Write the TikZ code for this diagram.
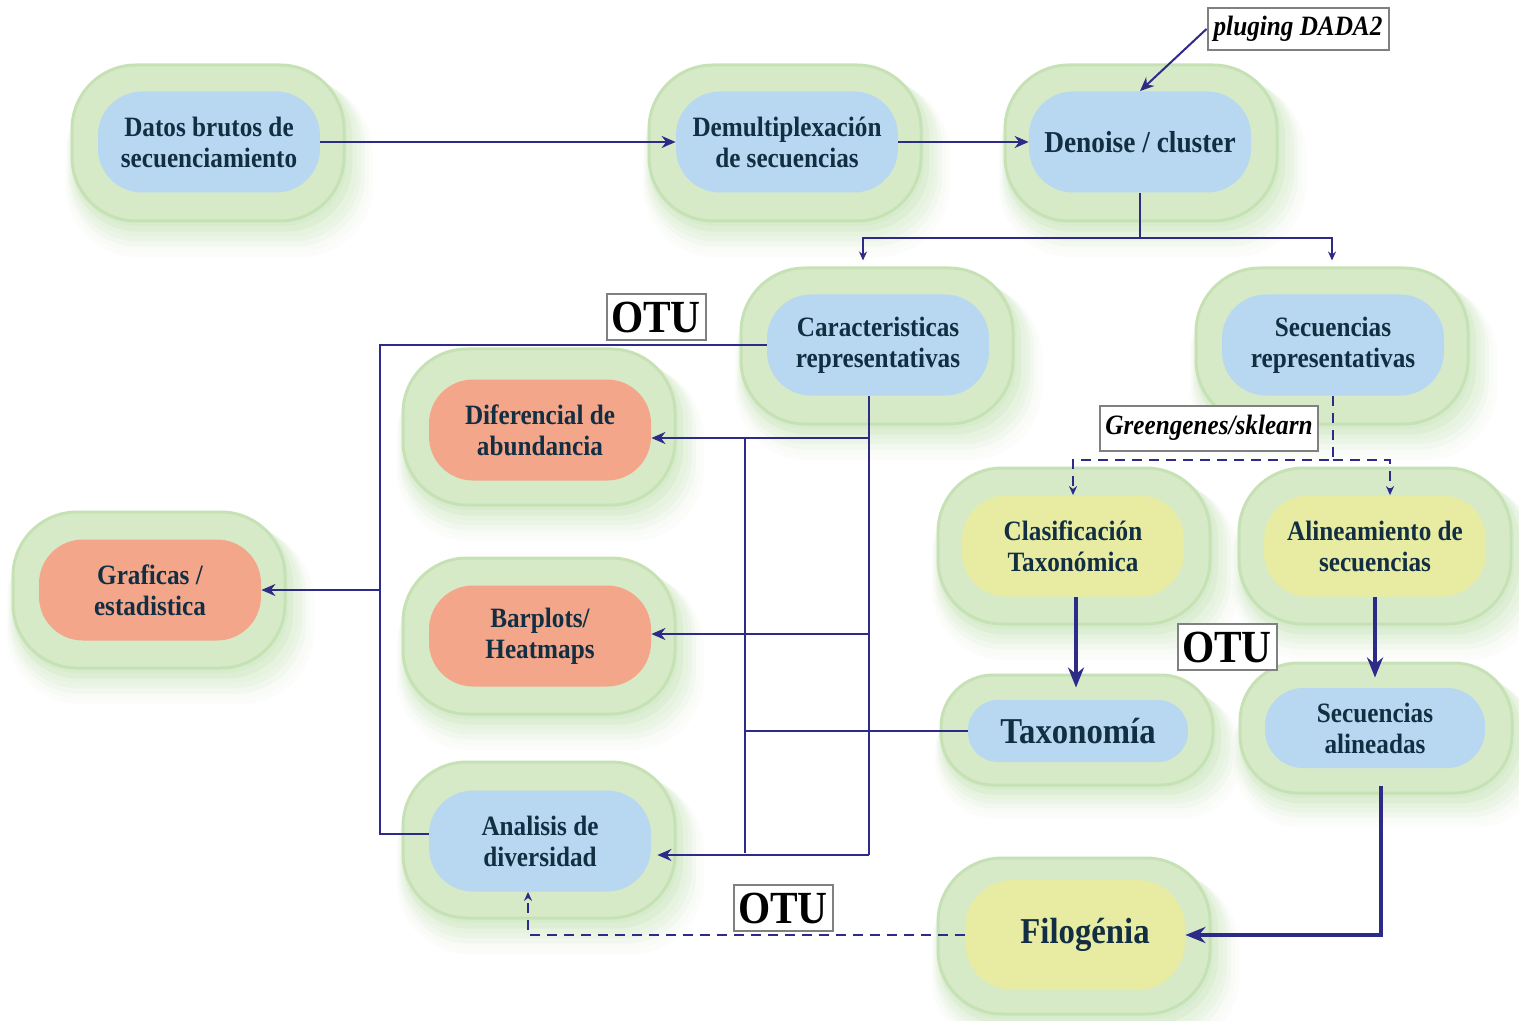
\documentclass[tikz,border=0pt]{standalone}
\usepackage{fontspec}
\setmainfont{Liberation Serif}[FakeStretch=0.9]
\usetikzlibrary{arrows.meta,shadows}
\definecolor{lc}{RGB}{46,42,136}
\definecolor{tc}{RGB}{18,46,66}
\definecolor{cblue}{RGB}{183,216,240}
\definecolor{csalmon}{RGB}{243,166,138}
\definecolor{cyellow}{RGB}{232,236,162}
\definecolor{gfill}{RGB}{214,234,200}
\definecolor{gedge}{RGB}{198,226,181}
\definecolor{gglow}{RGB}{180,220,160}
\definecolor{bgray}{RGB}{128,128,128}
\tikzset{
  outerbox/.style={rectangle, rounded corners=32pt, fill=gfill, draw=gedge, line width=1.5pt,
    minimum width=136pt, minimum height=78pt, inner sep=0pt,
    general shadow={fill=gglow, opacity=0.16, shadow xshift=1pt, shadow yshift=-2pt, shadow scale=1.01},
    general shadow={fill=gglow, opacity=0.13, shadow xshift=2pt, shadow yshift=-4pt, shadow scale=1.03},
    general shadow={fill=gglow, opacity=0.11, shadow xshift=3pt, shadow yshift=-5.5pt, shadow scale=1.05},
    general shadow={fill=gglow, opacity=0.09, shadow xshift=3.5pt, shadow yshift=-7pt, shadow scale=1.07},
    general shadow={fill=gglow, opacity=0.07, shadow xshift=4pt, shadow yshift=-8.5pt, shadow scale=1.09},
    general shadow={fill=gglow, opacity=0.05, shadow xshift=4.5pt, shadow yshift=-10pt, shadow scale=1.11},
    general shadow={fill=gglow, opacity=0.04, shadow xshift=5pt, shadow yshift=-11.5pt, shadow scale=1.13}},
  innerbox/.style={rectangle, rounded corners=22pt, minimum width=111pt, minimum height=50.5pt,
    inner sep=1pt, align=center, text=tc, font=\bfseries\fontsize{14}{15.5}\selectfont},
  conn/.style={draw=lc, line width=1pt},
  arr/.style={conn, -{Stealth[length=7pt,width=6pt]}},
  smallarr/.style={conn, -{Stealth[length=4.5pt,width=4pt]}},
  thickarr/.style={draw=lc, line width=2pt, -{Stealth[length=10pt,width=8pt]}},
  darr/.style={draw=lc, line width=1pt, dash pattern=on 5pt off 3.5pt, -{Stealth[length=4.5pt,width=4pt]}},
  tag/.style={draw=bgray, line width=1pt, fill=white, inner sep=0pt, text=black,
    font=\bfseries\itshape\fontsize{14}{15}\selectfont},
  otu/.style={draw=bgray, line width=1pt, fill=white, inner sep=0pt, minimum width=49.5pt,
    minimum height=23pt, text=black, font=\bfseries\fontsize{23}{24}\selectfont},
}
\begin{document}
\begin{tikzpicture}[x=0.5pt, y=-0.5pt]
\fill[white] (0,0) rectangle (1519,1021);
\useasboundingbox (0,0) rectangle (1519,1021);

% outer shapes
\node[outerbox] (datoso) at (208,143) {};
\node[outerbox] (demuxo) at (785,143) {};
\node[outerbox] (denoiseo) at (1141,143) {};
\node[outerbox] (caraco) at (877,346) {};
\node[outerbox] (secrepo) at (1332,346) {};
\node[outerbox] (difo) at (539,427) {};
\node[outerbox] (grafo) at (149,590) {};
\node[outerbox] (baro) at (539,636) {};
\node[outerbox] (anao) at (539,840) {};
\node[outerbox] (claso) at (1074,546) {};
\node[outerbox] (alino) at (1375,546) {};
\node[outerbox, minimum height=55pt, rounded corners=26pt] (taxo) at (1077,730) {};
\node[outerbox, minimum height=65pt, rounded corners=29pt] (secalo) at (1376,728) {};
\node[outerbox] (filoo) at (1074,936) {};

% inner shapes
\node[innerbox, fill=cblue] (datos) at (209,142) {Datos brutos de\\secuenciamiento};
\node[innerbox, fill=cblue] (demux) at (787,142) {Demultiplexación\\de secuencias};
\node[innerbox, fill=cblue, font=\bfseries\fontsize{15.2}{16}\selectfont] (denoise) at (1140,142) {Denoise / cluster};
\node[innerbox, fill=cblue] (carac) at (878,345) {Caracteristicas\\representativas};
\node[innerbox, fill=cblue] (secrep) at (1333,345) {Secuencias\\representativas};
\node[innerbox, fill=csalmon] (dif) at (540,430) {Diferencial de\\abundancia};
\node[innerbox, fill=csalmon] (graf) at (150,590) {Graficas /\\estadistica};
\node[innerbox, fill=csalmon] (bar) at (540,636) {Barplots/\\Heatmaps};
\node[innerbox, fill=cblue] (ana) at (540,841) {Analisis de\\diversidad};
\node[innerbox, fill=cyellow] (clas) at (1073,546) {Clasificación\\Taxonómica};
\node[innerbox, fill=cyellow] (alin) at (1375,546) {Alineamiento de\\secuencias};
\node[innerbox, fill=cblue, minimum width=110pt, minimum height=31pt, rounded corners=15pt,
  font=\bfseries\fontsize{18.2}{19}\selectfont] (tax) at (1078,731) {Taxonomía};
\node[innerbox, fill=cblue, minimum width=110pt, minimum height=40pt, rounded corners=19pt] (secal) at (1375,728) {Secuencias\\alineadas};
\node[innerbox, fill=cyellow, minimum width=110pt, minimum height=55pt, rounded corners=24pt,
  font=\bfseries\fontsize{18.2}{19}\selectfont] (filo) at (1075,935) {\hspace*{10pt}Filogénia};

% labels
\node[tag, minimum width=90.5pt, minimum height=21pt] (dada) at (1298,29) {pluging DADA2};
\node[tag, minimum width=109pt, minimum height=22.5pt] (green) at (1209,428) {Greengenes/sklearn};

% connectors
\draw[arr] (datos) -- (demux);
\draw[arr] (demux) -- (denoise);
\draw[arr] (dada.west) -- (denoise.north);

\coordinate (b0) at (1141,238);
\draw[smallarr, shorten >=3pt] (denoise.south) -- (denoise.south |- b0) -| ([xshift=-7pt]caraco.north);
\draw[smallarr, shorten >=3pt] (denoise.south |- b0) -| (secrepo.north);

\coordinate (lb) at (380,590);
\draw[conn] (carac.west) -| (lb) |- ([yshift=3.5pt]ana.west);
\draw[arr] (lb) -- (graf.east);

\coordinate (r1) at (869,438);
\coordinate (r2) at (869,634);
\coordinate (r3) at (869,855);
\draw[conn] (carac.south -| r1) -- (r3);
\draw[arr] (r1) -- (dif.east |- r1);
\draw[arr] (r2) -- (bar.east |- r2);
\draw[arr] (r3) -- ([xshift=3pt]ana.east |- r3);

\coordinate (m1) at (745,438);
\coordinate (m3) at (745,853);
\draw[conn] (m1) -- (m3);
\draw[conn] (tax.west) -- (tax.west -| m1);

\coordinate (g0) at (1333,460);
\draw[darr] (secrep.south) -- (secrep.south |- g0) -| (clas.north);
\draw[darr] (secrep.south |- g0) -| ([xshift=7.5pt]alin.north);

\draw[thickarr] ([xshift=1.5pt]clas.south) -- ([xshift=1.5pt,yshift=-7pt]clas.south |- taxo.north);
\draw[thickarr] (alin.south) -- ([yshift=-8pt]alin.south |- secalo.north);
\draw[thickarr] ([xshift=3pt,yshift=-9pt]secal.south) |- (filo.east);

\draw[darr] (filo.west) -| ([xshift=-6pt]ana.south);

% OTU tags
\node[otu] (otu1) at (656,317) {OTU};
\node[otu] (otu2) at (1227,647) {OTU};
\node[otu] (otu3) at (783,908) {OTU};
\end{tikzpicture}
\end{document}
